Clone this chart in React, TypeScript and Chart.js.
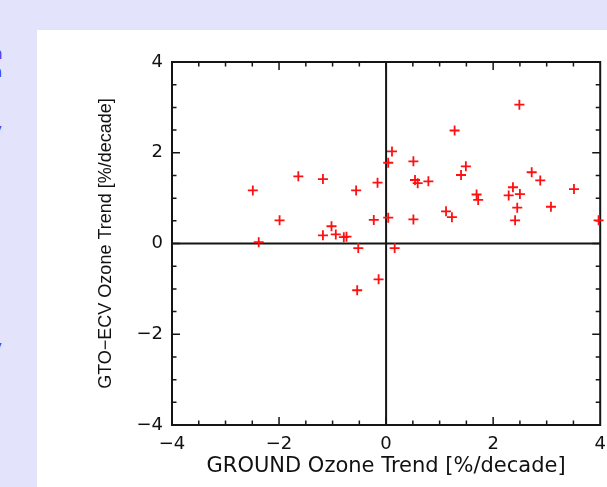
import React, { useEffect, useRef } from "react";
import { Chart, registerables } from "chart.js";

Chart.register(...registerables);

// GROUND ozone trend (x) vs GTO-ECV ozone trend (y), %/decade
const groundTrend = [
  -2.49, -2.38, -1.99, -1.64, -1.18, -1.18, -1.02, -0.94, -0.79, -0.74,
  -0.56, -0.52, -0.23, -0.16, 0.04, 0.11, 0.04, 0.16, 0.51, 0.54,
  0.59, 0.79, 0.51, 1.12, 1.23, 1.28, 1.4, 1.49, 1.69, 1.72,
  2.29, 2.37, 2.5, 2.45, 2.41, 2.49, 2.72, 2.88, 3.08, 3.51,
  3.97, -0.14, -0.54,
];
const gtoTrend = [
  1.17, 0.03, 0.51, 1.48, 1.42, 0.18, 0.38, 0.2, 0.14, 0.15,
  1.17, -0.1, 0.52, 1.34, 1.78, 2.03, 0.57, -0.1, 1.81, 1.4,
  1.33, 1.37, 0.53, 0.71, 0.58, 2.49, 1.51, 1.7, 1.08, 0.96,
  1.06, 1.24, 1.09, 0.79, 0.51, 3.06, 1.57, 1.39, 0.81, 1.2,
  0.51, -0.79, -1.03,
];
const tickValues = [-4, -2, 0, 2, 4];
const minorStep = 0.5;
const xTitle = "GROUND Ozone Trend [%/decade]";
const yTitle = "GTO\u2212ECV Ozone Trend [%/decade]";

const fmt = (v: number) => (v < 0 ? "\u2212" + Math.abs(v) : String(v));

const framePlugin = {
  id: "idlFrame",
  beforeDatasetsDraw(chart: any) {
    const { ctx, chartArea: a, scales } = chart;
    const xs = scales.x;
    const ys = scales.y;
    ctx.save();
    ctx.strokeStyle = "#151515";
    ctx.lineWidth = 2;
    ctx.strokeRect(a.left, a.top, a.right - a.left, a.bottom - a.top);
    const x0 = xs.getPixelForValue(0);
    const y0 = ys.getPixelForValue(0);
    ctx.beginPath();
    ctx.moveTo(x0, a.top);
    ctx.lineTo(x0, a.bottom);
    ctx.moveTo(a.left, y0);
    ctx.lineTo(a.right, y0);
    ctx.stroke();
    ctx.lineWidth = 1.5;
    ctx.beginPath();
    const lo = tickValues[0];
    const hi = tickValues[tickValues.length - 1];
    for (let v = lo + minorStep; v < hi - 1e-9; v += minorStep) {
      const major = Math.abs(v / 2 - Math.round(v / 2)) < 1e-6;
      const len = major ? 8 : 4.5;
      const px = xs.getPixelForValue(v);
      ctx.moveTo(px, a.bottom);
      ctx.lineTo(px, a.bottom - len);
      ctx.moveTo(px, a.top);
      ctx.lineTo(px, a.top + len);
      const py = ys.getPixelForValue(v);
      ctx.moveTo(a.left, py);
      ctx.lineTo(a.left + len, py);
      ctx.moveTo(a.right, py);
      ctx.lineTo(a.right - len, py);
    }
    ctx.stroke();
    ctx.restore();
  },
};

export default function App() {
  const ref = useRef<HTMLCanvasElement | null>(null);

  useEffect(() => {
    if (!ref.current) return;
    const points = groundTrend.map((x, i) => ({ x, y: gtoTrend[i] }));
    const chart = new Chart(ref.current, {
      type: "scatter",
      data: {
        datasets: [
          {
            data: points,
            pointStyle: "cross",
            pointRadius: 5,
            pointBorderWidth: 1.8,
            borderColor: "#ff1010",
            backgroundColor: "#ff1010",
            clip: false,
          } as any,
        ],
      },
      options: {
        animation: false,
        responsive: false,
        maintainAspectRatio: false,
        devicePixelRatio: 1,
        layout: { padding: { left: 0, top: 62, right: 4, bottom: 0 } },
        plugins: {
          legend: { display: false },
          tooltip: { enabled: false },
        },
        scales: {
          x: {
            type: "linear",
            min: -4,
            max: 4,
            afterBuildTicks: (s: any) => {
              s.ticks = tickValues.map((v) => ({ value: v }));
            },
            afterFit: (s: any) => {
              s.height = 62;
              s.paddingLeft = 0;
              s.paddingRight = 0;
            },
            grid: { display: true, drawOnChartArea: false, drawTicks: false },
            border: { display: false },
            ticks: {
              padding: 9,
              color: "#111",
              maxRotation: 0,
              autoSkip: false,
              font: { family: "DejaVu Sans", size: 18 },
              callback: (v: any) => fmt(Number(v)),
            },
            title: {
              display: true,
              text: xTitle,
              color: "#111",
              font: { family: "DejaVu Sans", size: 21 },
              padding: { top: 0, bottom: 8 },
            },
          },
          y: {
            type: "linear",
            min: -4,
            max: 4,
            afterBuildTicks: (s: any) => {
              s.ticks = tickValues.map((v) => ({ value: v }));
            },
            afterFit: (s: any) => {
              s.width = 172;
              s.paddingTop = 0;
              s.paddingBottom = 0;
            },
            grid: { display: true, drawOnChartArea: false, drawTicks: false },
            border: { display: false },
            ticks: {
              padding: 9,
              color: "#111",
              autoSkip: false,
              font: { family: "DejaVu Sans", size: 18 },
              callback: (v: any) => fmt(Number(v)),
            },
            title: {
              display: true,
              text: yTitle,
              color: "#111",
              font: { family: "Liberation Sans", size: 18 },
              padding: { top: 95, bottom: 0 },
            },
          },
        },
      },
      plugins: [framePlugin],
    } as any);
    return () => chart.destroy();
  }, []);

  const blue: React.CSSProperties = {
    position: "absolute",
    color: "#3c3ce6",
    fontFamily: "DejaVu Sans",
    fontSize: 15,
    lineHeight: "16px",
  };

  return (
    <div
      style={{
        position: "fixed",
        left: 0,
        top: 0,
        width: 607,
        height: 487,
        background: "#e3e3fb",
        overflow: "hidden",
      }}
    >
      <div
        style={{
          position: "absolute",
          left: 37,
          top: 30,
          width: 570,
          height: 457,
          background: "#ffffff",
        }}
      />
      <span style={{ ...blue, left: -7, top: 46 }}>n</span>
      <span style={{ ...blue, left: -7, top: 64 }}>a</span>
      <span style={{ ...blue, left: -7, top: 122 }}>y</span>
      <span style={{ ...blue, left: -7, top: 339 }}>y</span>
      <canvas
        ref={ref}
        width={607}
        height={487}
        style={{ position: "absolute", left: 0, top: 0, width: 607, height: 487 }}
      />
    </div>
  );
}
